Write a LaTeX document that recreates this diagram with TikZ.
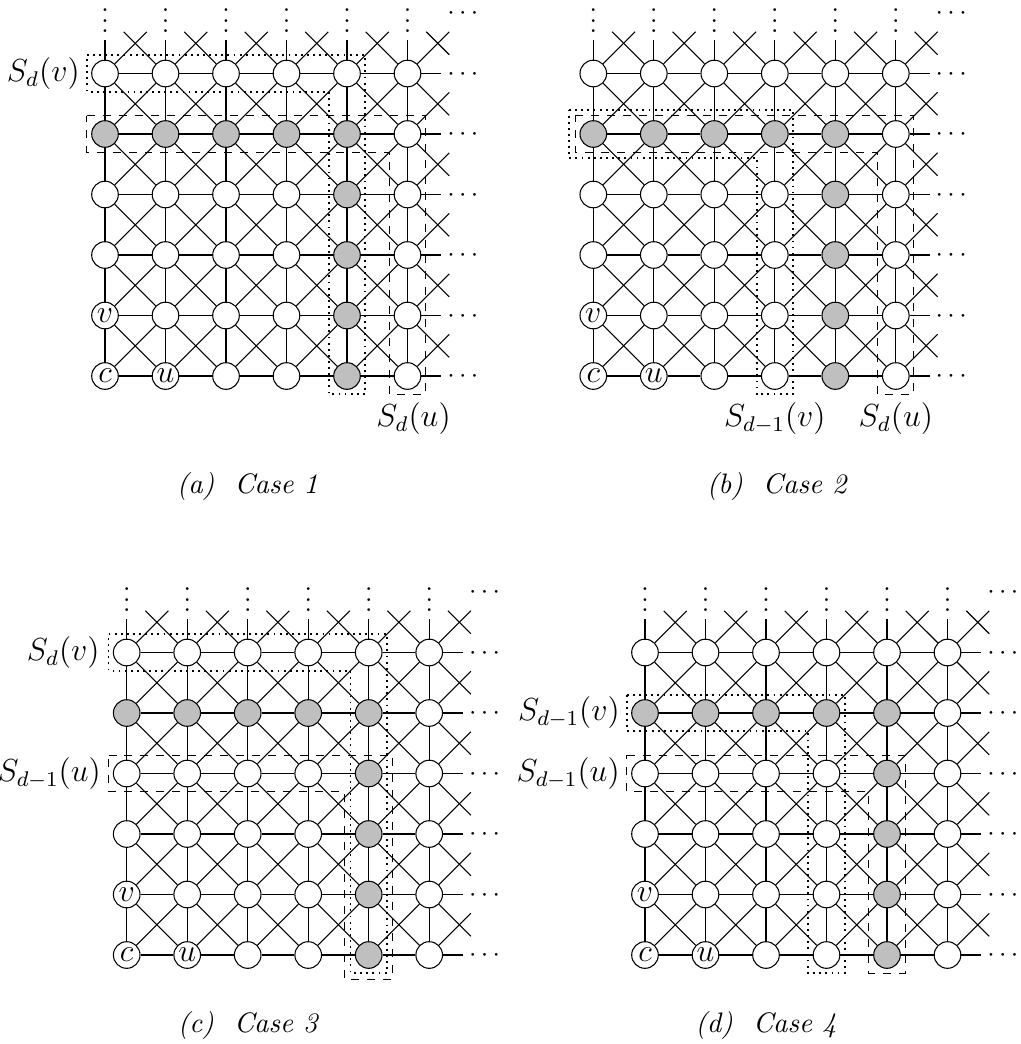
\documentclass[tikz,border=0pt]{standalone}
\usepackage{tikz}

\begin{document}
\begin{tikzpicture}[x=0.8cm,y=0.8cm,
		vtx/.style={circle,draw,fill=white,minimum size=0.352cm,inner sep=0pt,font=\large},
		grayvtx/.style={vtx,fill=color2},
		setv/.style={line width=0.7pt,dash pattern=on 0.7pt off 1.6pt},
		setu/.style={dashed},
		setlabel/.style={font=\large,inner sep=0pt},
		vdts/.style={inner sep=0pt,anchor=base},
		hdts/.style={inner sep=0pt,anchor=base west,yshift=-2.5pt},
		caption/.style={font=\fontsize{10.6}{12.7}\selectfont\itshape}]
	\definecolor{color2}{gray}{0.75}
	\useasboundingbox (0,0) rectangle (16.86,-17.256);
	%% Grids ------
	\foreach \pn/\ox/\oy in {a/1.7355/-6.2149, b/9.8066/-6.2149, c/2.0942/-15.785, d/10.661/-15.785}{
		\begin{scope}[shift={(\ox,\oy)}]
			%% Vertices ------
			\foreach \i in {0,...,5}{
				\foreach \j in {0,...,5}{
					\def\nodetext{}
					\ifnum\i=0 \ifnum\j=0 \def\nodetext{$c$}\fi \ifnum\j=1 \def\nodetext{$v$}\fi \fi
					\ifnum\i=1 \ifnum\j=0 \def\nodetext{$u$}\fi \fi
					\pgfmathtruncatemacro\isgray{or(and(\j==4,\i<5),and(\i==4,\j<5))}
					\ifnum\isgray=1
						\node[grayvtx] (\pn-\i-\j) at (\i,\j) {\nodetext};
					\else
						\node[vtx] (\pn-\i-\j) at (\i,\j) {\nodetext};
					\fi
				}
			}
			%% Edges ---------
			\foreach \i in {0,...,4}{
				\pgfmathtruncatemacro\k{\i+1}
				\foreach \j in {0,...,5}{
					\draw (\pn-\i-\j) -- (\pn-\k-\j);
					\draw (\pn-\j-\i) -- (\pn-\j-\k);
				}
				\foreach \j in {0,...,4}{
					\pgfmathtruncatemacro\l{\j+1}
					\draw (\pn-\i-\j) -- (\pn-\k-\l);
					\draw (\pn-\k-\j) -- (\pn-\i-\l);
				}
			}
			%% Open ends -----
			\foreach \i in {0,...,5}{
				\coordinate (\pn-up\i) at (\i,5.56);
				\coordinate (\pn-ur\i) at (\i+0.69,5.69);
				\coordinate (\pn-rt\i) at (5.56,\i);
				\draw (\pn-\i-5) -- (\pn-up\i);
				\draw (\pn-\i-5) -- (\pn-ur\i);
				\draw (\pn-5-\i) -- (\pn-rt\i);
				\node[vdts] at (\i,5.67) {$\vdots$};
				\node[hdts] at (5.65,\i) {$\cdots$};
			}
			\foreach \i in {1,...,5}{
				\coordinate (\pn-ul\i) at (\i-0.69,5.69);
				\coordinate (\pn-dr\i) at (5.69,\i-0.69);
				\draw (\pn-\i-5) -- (\pn-ul\i);
				\draw (\pn-5-\i) -- (\pn-dr\i);
			}
			\foreach \j in {0,...,4}{
				\coordinate (\pn-ru\j) at (5.69,\j+0.69);
				\draw (\pn-5-\j) -- (\pn-ru\j);
			}
			\draw (5.31,5.69) -- (5.69,5.31);
			\node[hdts] at (5.65,6) {$\cdots$};
		\end{scope}
	}
	%% Case 1 --------
	\draw[setv] ([shift={(-.3,.3)}]a-0-5.center) -| ([shift={(.3,-.3)}]a-4-0.center) -- ([shift={(-.3,-.3)}]a-4-0.center) -- ([shift={(-.3,-.3)}]a-4-5.center) -- ([shift={(-.3,-.3)}]a-0-5.center) -- cycle;
	\draw[setu] ([shift={(-.3,.3)}]a-0-4.center) -| ([shift={(.3,-.3)}]a-5-0.center) -- ([shift={(-.3,-.3)}]a-5-0.center) -- ([shift={(-.3,-.3)}]a-5-4.center) -- ([shift={(-.3,-.3)}]a-0-4.center) -- cycle;
	\node[setlabel,anchor=east] (a-sv) at ([shift={(-.41,0)}]a-0-5.center) {$S_d(v)$};
	\node[setlabel] (a-su) at ([shift={(.1,-.7)}]a-5-0.center) {$S_d(u)$};
	\node[caption] (a-cap) at ([shift={(2.355,-1.82)}]a-0-0.center) {(a)~~Case 1};
	%% Case 2 --------
	\draw[setv] ([shift={(-.4,.4)}]b-0-4.center) -| ([shift={(.3,-.3)}]b-3-0.center) -- ([shift={(-.3,-.3)}]b-3-0.center) -- ([shift={(-.3,-.4)}]b-3-4.center) -- ([shift={(-.4,-.4)}]b-0-4.center) -- cycle;
	\draw[setu] ([shift={(-.3,.3)}]b-0-4.center) -| ([shift={(.3,-.3)}]b-5-0.center) -- ([shift={(-.3,-.3)}]b-5-0.center) -- ([shift={(-.3,-.3)}]b-5-4.center) -- ([shift={(-.3,-.3)}]b-0-4.center) -- cycle;
	\node[setlabel] (b-sv) at ([shift={(0,-.7)}]b-3-0.center) {$S_{d-1}(v)$};
	\node[setlabel] (b-su) at ([shift={(0,-.7)}]b-5-0.center) {$S_d(u)$};
	\node[caption] (b-cap) at ([shift={(3.03,-1.82)}]b-0-0.center) {(b)~~Case 2};
	%% Case 3 --------
	\draw[setv] ([shift={(-.3,.3)}]c-0-5.center) -| ([shift={(.3,-.3)}]c-4-0.center) -- ([shift={(-.3,-.3)}]c-4-0.center) -- ([shift={(-.3,-.3)}]c-4-5.center) -- ([shift={(-.3,-.3)}]c-0-5.center) -- cycle;
	\draw[setu] ([shift={(-.3,.3)}]c-0-3.center) -| ([shift={(.4,-.4)}]c-4-0.center) -- ([shift={(-.4,-.4)}]c-4-0.center) -- ([shift={(-.4,-.3)}]c-4-3.center) -- ([shift={(-.3,-.3)}]c-0-3.center) -- cycle;
	\node[setlabel,anchor=east] (c-sv) at ([shift={(-.44,0)}]c-0-5.center) {$S_d(v)$};
	\node[setlabel,anchor=east] (c-su) at ([shift={(-.42,0)}]c-0-3.center) {$S_{d-1}(u)$};
	\node[caption] (c-cap) at ([shift={(2,-1.157)}]c-0-0.center) {(c)~~Case 3};
	%% Case 4 --------
	\draw[setv] ([shift={(-.3,.3)}]d-0-4.center) -| ([shift={(.3,-.3)}]d-3-0.center) -- ([shift={(-.3,-.3)}]d-3-0.center) -- ([shift={(-.3,-.3)}]d-3-4.center) -- ([shift={(-.3,-.3)}]d-0-4.center) -- cycle;
	\draw[setu] ([shift={(-.3,.3)}]d-0-3.center) -| ([shift={(.3,-.3)}]d-4-0.center) -- ([shift={(-.3,-.3)}]d-4-0.center) -- ([shift={(-.3,-.3)}]d-4-3.center) -- ([shift={(-.3,-.3)}]d-0-3.center) -- cycle;
	\node[setlabel,anchor=east] (d-sv) at ([shift={(-.41,0)}]d-0-4.center) {$S_{d-1}(v)$};
	\node[setlabel,anchor=east] (d-su) at ([shift={(-.41,0)}]d-0-3.center) {$S_{d-1}(u)$};
	\node[caption] (d-cap) at ([shift={(2,-1.157)}]d-0-0.center) {(d)~~Case 4};
\end{tikzpicture}
\end{document}
